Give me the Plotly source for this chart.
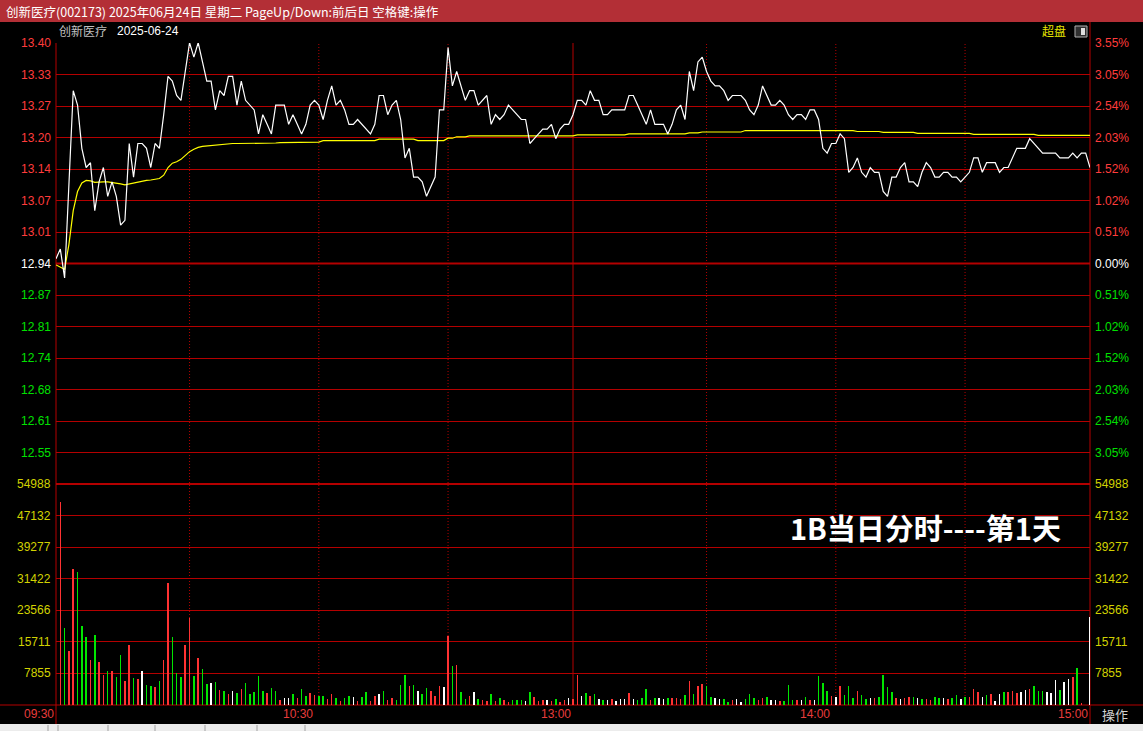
import plotly.graph_objects as go

W, H = 1143, 731

# ---------------- data ----------------
pre_close = 12.94
minute_index = list(range(241))  # 09:30 .. 11:30 / 13:00 .. 15:00

price = [
    12.95, 12.97, 12.91, 13.10, 13.30, 13.27, 13.18, 13.14, 13.15, 13.05,
    13.11, 13.14, 13.08, 13.11, 13.08, 13.02, 13.03, 13.19, 13.12, 13.19,
    13.19, 13.18, 13.14, 13.19, 13.18, 13.25, 13.33, 13.32, 13.29, 13.28,
    13.34, 13.40, 13.37, 13.40, 13.36, 13.32, 13.32, 13.26, 13.30, 13.29,
    13.33, 13.33, 13.27, 13.32, 13.28, 13.27, 13.26, 13.21, 13.25, 13.23,
    13.21, 13.27, 13.27, 13.27, 13.23, 13.25, 13.23, 13.21, 13.23, 13.27,
    13.28, 13.27, 13.24, 13.28, 13.31, 13.27, 13.28, 13.26, 13.23, 13.23,
    13.24, 13.23, 13.22, 13.21, 13.23, 13.29, 13.29, 13.25, 13.27, 13.28,
    13.24, 13.16, 13.18, 13.12, 13.12, 13.11, 13.08, 13.10, 13.12, 13.26,
    13.26, 13.39, 13.31, 13.34, 13.31, 13.28, 13.30, 13.30, 13.27, 13.28,
    13.29, 13.23, 13.25, 13.24, 13.25, 13.27, 13.26, 13.25, 13.24, 13.24,
    13.19, 13.20, 13.21, 13.22, 13.22, 13.23, 13.20, 13.22, 13.23, 13.23,
    13.25, 13.28, 13.28, 13.27, 13.30, 13.28, 13.28, 13.25, 13.25, 13.26,
    13.26, 13.26, 13.26, 13.29, 13.29, 13.27, 13.25, 13.23, 13.26, 13.23,
    13.23, 13.23, 13.21, 13.23, 13.26, 13.27, 13.24, 13.34, 13.30, 13.36,
    13.37, 13.34, 13.32, 13.31, 13.31, 13.30, 13.28, 13.29, 13.29, 13.29,
    13.28, 13.26, 13.25, 13.27, 13.31, 13.29, 13.27, 13.27, 13.28, 13.27,
    13.25, 13.24, 13.25, 13.25, 13.24, 13.26, 13.26, 13.24, 13.18, 13.17,
    13.19, 13.19, 13.21, 13.20, 13.13, 13.14, 13.16, 13.13, 13.12, 13.14,
    13.13, 13.13, 13.09, 13.08, 13.12, 13.12, 13.14, 13.15, 13.11, 13.11,
    13.10, 13.13, 13.15, 13.14, 13.12, 13.12, 13.13, 13.13, 13.12, 13.12,
    13.11, 13.12, 13.13, 13.16, 13.16, 13.13, 13.15, 13.15, 13.15, 13.13,
    13.14, 13.14, 13.16, 13.18, 13.18, 13.18, 13.20, 13.19, 13.18, 13.17,
    13.17, 13.17, 13.17, 13.16, 13.16, 13.16, 13.17, 13.16, 13.17, 13.17,
    13.14,
]

avg_price = [
    12.937, 12.932, 12.928, 12.980, 13.050, 13.090, 13.108, 13.113, 13.112, 13.109,
    13.110, 13.110, 13.110, 13.109, 13.108, 13.106, 13.104, 13.106, 13.108, 13.110,
    13.111, 13.113, 13.114, 13.115, 13.117, 13.124, 13.140, 13.149, 13.152, 13.157,
    13.166, 13.173, 13.178, 13.182, 13.184, 13.185, 13.186, 13.187, 13.188, 13.188,
    13.189, 13.190, 13.190, 13.190, 13.190, 13.190, 13.191, 13.191, 13.191, 13.191,
    13.191, 13.191, 13.192, 13.192, 13.192, 13.192, 13.192, 13.192, 13.193, 13.193,
    13.193, 13.193, 13.196, 13.196, 13.196, 13.196, 13.196, 13.196, 13.196, 13.196,
    13.196, 13.196, 13.196, 13.196, 13.196, 13.199, 13.199, 13.199, 13.199, 13.199,
    13.199, 13.199, 13.199, 13.199, 13.196, 13.196, 13.196, 13.196, 13.196, 13.196,
    13.196, 13.201, 13.201, 13.204, 13.204, 13.204, 13.206, 13.206, 13.206, 13.206,
    13.206, 13.206, 13.206, 13.206, 13.206, 13.206, 13.206, 13.206, 13.206, 13.206,
    13.206, 13.206, 13.206, 13.206, 13.206, 13.206, 13.206, 13.206, 13.206, 13.206,
    13.206, 13.208, 13.208, 13.208, 13.208, 13.208, 13.208, 13.208, 13.208, 13.208,
    13.208, 13.208, 13.208, 13.210, 13.210, 13.210, 13.210, 13.210, 13.210, 13.210,
    13.210, 13.210, 13.210, 13.210, 13.210, 13.210, 13.210, 13.212, 13.212, 13.212,
    13.214, 13.214, 13.214, 13.214, 13.214, 13.214, 13.214, 13.214, 13.214, 13.214,
    13.217, 13.217, 13.217, 13.217, 13.217, 13.217, 13.217, 13.217, 13.217, 13.217,
    13.217, 13.217, 13.217, 13.217, 13.217, 13.217, 13.217, 13.217, 13.217, 13.217,
    13.217, 13.217, 13.217, 13.217, 13.217, 13.217, 13.215, 13.215, 13.215, 13.215,
    13.215, 13.215, 13.213, 13.213, 13.213, 13.213, 13.213, 13.213, 13.213, 13.213,
    13.211, 13.211, 13.211, 13.211, 13.211, 13.211, 13.211, 13.211, 13.211, 13.211,
    13.211, 13.211, 13.211, 13.209, 13.209, 13.209, 13.209, 13.209, 13.209, 13.209,
    13.209, 13.209, 13.209, 13.209, 13.209, 13.209, 13.209, 13.209, 13.207, 13.207,
    13.207, 13.207, 13.207, 13.207, 13.207, 13.207, 13.207, 13.207, 13.207, 13.207,
    13.207,
]

volume = [
    0, 50450, 19190, 13510, 33780, 33100, 19770, 16840, 11260, 17340,
    10760, 7580, 8510, 8510, 7000, 12340, 6090, 14840, 6760, 6590,
    8340, 5000, 4750, 4500, 6000, 11090, 30440, 16840, 8000, 7000,
    14840, 21770, 7340, 11590, 9010, 5250, 5590, 5750, 3750, 3590,
    2840, 3590, 3090, 4090, 5590, 2840, 3340, 7250, 3590, 3090,
    4340, 3590, 1250, 1840, 1840, 2840, 1840, 4000, 2340, 3090,
    2590, 2340, 2340, 1590, 2840, 1750, 1090, 1840, 2250, 2090,
    1090, 2090, 3340, 1090, 2250, 2840, 3500, 1250, 1750, 1250,
    5000, 7500, 4750, 5000, 3500, 2750, 4250, 3500, 2250, 4750,
    4500, 17090, 9760, 10010, 3250, 1500, 2250, 3250, 1500, 1250,
    1000, 2750, 1000, 1750, 1250, 750, 1250, 1250, 1250, 1000,
    3250, 2000, 1000, 1250, 1250, 1000, 1500, 750, 1250, 1750,
    1500, 7500, 2250, 3000, 2250, 2750, 1500, 1250, 1250, 1500,
    1000, 1500, 1500, 3000, 1500, 1250, 1750, 4000, 1250, 1750,
    1750, 1500, 1750, 1750, 1750, 1500, 2500, 6000, 2750, 4750,
    5250, 4750, 2000, 1750, 1500, 1500, 750, 1250, 1500, 750,
    1500, 2750, 1750, 1250, 1750, 2000, 1250, 1250, 1000, 1100,
    5000, 1250, 1250, 1250, 2000, 1250, 1250, 7250, 5500, 3500,
    2250, 2000, 4750, 2500, 4750, 1750, 3500, 2500, 1500, 1750,
    1750, 2000, 7500, 4500, 3250, 1750, 1500, 1750, 2000, 2000,
    1750, 1500, 1500, 1250, 2000, 1750, 1750, 1500, 1750, 2500,
    1500, 2000, 2000, 4000, 3250, 2000, 2500, 2750, 1000, 2750,
    3250, 3250, 3500, 3000, 3250, 3750, 4000, 4750, 3500, 3500,
    3250, 3000, 6250, 3750, 5750, 6500, 7000, 9250, 500, 0,
    21850,
]

# bar colour: r = up, g = down, w = unchanged
bar_dir = list(
    "wrgrrgggrg" "rrgrggrrgr" "wggrgrrggg" "rrgrggwgrg" "rwgrgggggr"
    "ggrwwgrggr" "rggrrgrggw" "rggrrwgrrg" "ggrgwggrrr" "wrgrggrwgr"
    "rgrgrrgggw" "grrrwrgrrw" "rrwgrgwgwr" "wwwrwgggrg" "wwgrrrgrgr"
    "rggwwggrww" "gggrrgwwrg" "ggrwgrwggg" "rwrgggrggw" "rggggrwrrg"
    "wgrrggwrgg" "wgrrrwgrww" "grrrwwrggg" "wwwgwwrgrw" "w"
)

price_ticks_up = ["13.01", "13.07", "13.14", "13.20", "13.27", "13.33", "13.40"]
price_ticks_dn = ["12.87", "12.81", "12.74", "12.68", "12.61", "12.55"]
pct_ticks = ["0.51%", "1.02%", "1.52%", "2.03%", "2.54%", "3.05%", "3.55%"]
vol_ticks = ["7855", "15711", "23566", "31422", "39277", "47132", "54988"]
vol_max = 54988
pct_max = 0.0355
time_labels = ["09:30", "10:30", "13:00", "14:00", "15:00"]
time_label_idx = [0, 60, 120, 180, 240]
half_hour_lines = [31, 61, 91, 151, 181, 211]
session_break = 120

title_text = "创新医疗(002173) 2025年06月24日 星期二 PageUp/Down:前后日 空格键:操作"
stock_name = "创新医疗"
date_text = "2025-06-24"
big_text = "1B当日分时----第1天"

# ---------------- styling ----------------
BG = "#000000"
GRID = "#b40000"
RED = "#ff3c3c"
GREEN = "#00e000"
YEL_LBL = "#d2d200"
FONT = "Liberation Sans, Arial, sans-serif"
CJK = "Noto Sans CJK SC, sans-serif"

X0, X1 = 56, 1090          # plot left/right (px)
P_TOP, P_BOT = 43, 484     # price panel
V_TOP, V_BOT = 484, 705    # volume panel


def fy(px):
    return 1 - px / H


def fx(px):
    return px / W


step = pre_close * pct_max / 7
p_lo = pre_close - 7 * step
p_hi = pre_close + 7 * step
price_tickvals = [pre_close + k * step for k in range(-6, 8)]
vol_tickvals = [vol_max * k / 7 for k in range(1, 8)]

fig = go.Figure()

colmap = {"r": "#ff3232", "g": "#00e600", "w": "#ffffff"}
for key in ["w", "g", "r"]:
    xs = [i for i in minute_index if bar_dir[i] == key and volume[i] > 0]
    ys = [volume[i] for i in xs]
    fig.add_trace(go.Bar(x=xs, y=ys, width=0.12, marker=dict(color=colmap[key], line=dict(width=0)),
                         xaxis="x2", yaxis="y2", showlegend=False, hoverinfo="skip"))

fig.add_trace(go.Scatter(x=minute_index, y=avg_price, mode="lines",
                         line=dict(color="#ffff00", width=1.2), showlegend=False, hoverinfo="skip"))
fig.add_trace(go.Scatter(x=minute_index, y=price, mode="lines",
                         line=dict(color="#ffffff", width=1.2), showlegend=False, hoverinfo="skip"))

shapes = []
# title bar
shapes.append(dict(type="rect", xref="paper", yref="paper", x0=0, x1=1, y0=fy(22), y1=1,
                   fillcolor="#b32f36", line=dict(width=0), layer="below"))
# bottom tab strip
shapes.append(dict(type="rect", xref="paper", yref="paper", x0=0, x1=1, y0=0, y1=fy(724),
                   fillcolor="#ececec", line=dict(width=0), layer="above"))
for tx in [48, 58, 108, 155, 205, 257, 305]:
    shapes.append(dict(type="line", xref="paper", yref="paper", x0=fx(tx), x1=fx(tx), y0=0, y1=fy(725),
                       line=dict(color="#a0a0a0", width=1), layer="above"))
# thick lines
shapes.append(dict(type="line", xref="paper", yref="y", x0=fx(X0), x1=fx(X1), y0=pre_close, y1=pre_close,
                   line=dict(color=GRID, width=2), layer="below"))
shapes.append(dict(type="line", xref="paper", yref="paper", x0=fx(X0), x1=fx(X1), y0=fy(P_BOT), y1=fy(P_BOT),
                   line=dict(color=GRID, width=2), layer="below"))
shapes.append(dict(type="line", xref="paper", yref="paper", x0=0, x1=1, y0=fy(V_BOT), y1=fy(V_BOT),
                   line=dict(color=GRID, width=1), layer="below"))
# borders
shapes.append(dict(type="line", xref="paper", yref="paper", x0=fx(X0), x1=fx(X0), y0=fy(724), y1=fy(P_TOP),
                   line=dict(color=GRID, width=1), layer="below"))
shapes.append(dict(type="line", xref="paper", yref="paper", x0=fx(X1), x1=fx(X1), y0=fy(724), y1=fy(22),
                   line=dict(color=GRID, width=1), layer="below"))
# vertical time lines
for t in half_hour_lines:
    shapes.append(dict(type="line", xref="x", yref="paper", x0=t, x1=t, y0=fy(V_BOT), y1=fy(P_TOP),
                       line=dict(color=GRID, width=1, dash="1px,2px"), layer="below"))
shapes.append(dict(type="line", xref="x", yref="paper", x0=session_break, x1=session_break,
                   y0=fy(V_BOT), y1=fy(P_TOP), line=dict(color=GRID, width=1), layer="below"))
# 超盘 toggle icon
shapes.append(dict(type="rect", xref="paper", yref="paper", x0=fx(1075), x1=fx(1087), y0=fy(37), y1=fy(26),
                   fillcolor="#303030", line=dict(color="#b0b0b0", width=1), layer="above"))
shapes.append(dict(type="rect", xref="paper", yref="paper", x0=fx(1081), x1=fx(1085), y0=fy(35), y1=fy(28),
                   fillcolor="#e0e0e0", line=dict(width=0), layer="above"))

ann = []


def lab(text, x, y, color, xanchor, yref="paper", size=12, font=FONT, xref="paper"):
    ann.append(dict(text=text, x=x, y=y, xref=xref, yref=yref, xanchor=xanchor, yanchor="middle",
                    showarrow=False, font=dict(family=font, size=size, color=color)))


# price labels left + percentage labels right
for k, t in enumerate(price_ticks_up):
    v = pre_close + (k + 1) * step
    lab(t, fx(53), v, RED, "right", yref="y")
    lab(pct_ticks[k], fx(1093), v, RED, "left", yref="y")
lab("12.94", fx(53), pre_close, "#ffffff", "right", yref="y")
lab("0.00%", fx(1093), pre_close, "#ffffff", "left", yref="y")
for k, t in enumerate(price_ticks_dn):
    v = pre_close - (k + 1) * step
    lab(t, fx(53), v, GREEN, "right", yref="y")
    lab(pct_ticks[k], fx(1093), v, GREEN, "left", yref="y")
# volume labels
for k, t in enumerate(vol_ticks):
    lab(t, fx(53), vol_tickvals[k], YEL_LBL, "right", yref="y2")
    lab(t, fx(1093), vol_tickvals[k], YEL_LBL, "left", yref="y2")
# time labels
for t, i in zip(time_labels, time_label_idx):
    lab(t, i, fy(714), "#e83c3c", "right", xref="x", size=12)
lab("操作", fx(1100), fy(714), "#d0d0d0", "left", size=13, font=CJK)

# header texts
lab(title_text, fx(4), fy(11), "#ffffff", "left", size=12.5, font=CJK)
lab(stock_name, fx(57), fy(31), "#c0c0c0", "left", size=12, font=CJK)
lab(date_text, fx(115), fy(31), "#ffffff", "left", size=12, font=FONT)
lab("超盘", fx(1040), fy(31), "#e6e600", "left", size=12, font=CJK)

ann.append(dict(text="<b>" + big_text + "</b>", x=fx(925), y=fy(527), xref="paper", yref="paper",
                xanchor="center", yanchor="middle", showarrow=False,
                font=dict(family=CJK, size=29, color="#ffffff")))

fig.update_layout(
    width=W, height=H,
    margin=dict(l=0, r=0, t=0, b=0),
    paper_bgcolor=BG, plot_bgcolor=BG,
    bargap=0, barmode="overlay",
    shapes=shapes, annotations=ann,
    xaxis=dict(domain=[fx(X0), fx(X1)], range=[0, 240], showgrid=False, zeroline=False,
               showticklabels=False, anchor="y", fixedrange=True),
    xaxis2=dict(domain=[fx(X0), fx(X1)], range=[0, 240], showgrid=False, zeroline=False,
                showticklabels=False, anchor="y2", matches="x"),
    yaxis=dict(domain=[fy(P_BOT), fy(P_TOP)], range=[p_lo, p_hi], tickvals=price_tickvals,
               showgrid=True, gridcolor=GRID, gridwidth=1, zeroline=False, showticklabels=False,
               anchor="x"),
    yaxis2=dict(domain=[fy(V_BOT), fy(V_TOP)], range=[0, vol_max], tickvals=vol_tickvals,
                showgrid=True, gridcolor=GRID, gridwidth=1, zeroline=False, showticklabels=False,
                anchor="x2"),
)

fig.write_html(
    "out.html",
    config={"displayModeBar": False},
    post_script="document.body.style.margin='0';document.body.style.padding='0';"
                "document.body.style.background='#000';",
)
